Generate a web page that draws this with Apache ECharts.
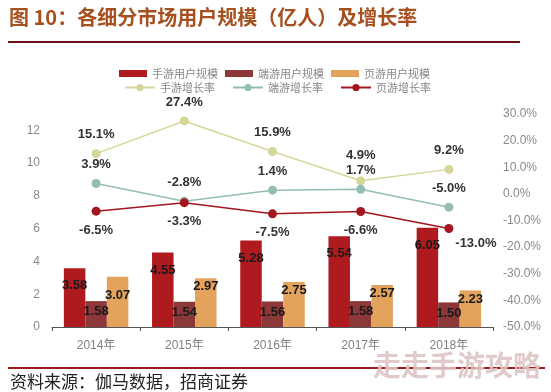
<!DOCTYPE html>
<html><head><meta charset="utf-8">
<script src="https://cdn.jsdelivr.net/npm/echarts@6/dist/echarts.min.js"></script>
<style>html,body{margin:0;padding:0;background:#fff}#c{width:551px;height:392px}</style>
</head><body><div id="c"></div>
<script>
const categories = ['2014年','2015年','2016年','2017年','2018年'];
const mobileUsers = [3.58, 4.55, 5.28, 5.54, 6.05];
const pcUsers = [1.58, 1.54, 1.56, 1.58, 1.50];
const webUsers = [3.07, 2.97, 2.75, 2.57, 2.23];
const mobileGrowth = [15.1, 27.4, 15.9, 4.9, 9.2];
const pcGrowth = [3.9, -2.8, 1.4, 1.7, -5.0];
const webGrowth = [-6.5, -3.3, -7.5, -6.6, -13.0];
const leftTicks = {min: 0, max: 13, interval: 2};
const rightTicks = {min: -50, max: 30, interval: 10};

const F = '"Liberation Sans", "Noto Sans CJK SC", sans-serif';
const CJK = '"Noto Sans CJK SC", sans-serif';
const chart = echarts.init(document.getElementById('c'), null, {renderer: 'canvas'});

const barLabel = (dist) => ({show: true, position: 'insideTop', distance: dist, color: '#1a1a1a',
  fontWeight: 'bold', fontSize: 13, fontFamily: F, formatter: p => p.value.toFixed(2)});
const lineLabel = (pos) => ({show: true, position: pos, distance: 8, color: '#333',
  fontWeight: 'bold', fontSize: 13, fontFamily: F, formatter: p => p.value.toFixed(1) + '%'});

const mkLine = (name, data, color, pos) => ({
  name, type: 'line', yAxisIndex: 1, data: data.map(v => ({value: v})),
  symbol: 'circle', symbolSize: 9, itemStyle: {color}, lineStyle: {color, width: 1.5},
  label: lineLabel(pos), z: 5
});

const lineMobile = mkLine('手游增长率', mobileGrowth, '#D6D69A', 'top');
lineMobile.data[3].label = {offset: [0, -6]};
const linePc = mkLine('端游增长率', pcGrowth, '#93BDB3', 'top');
const lineWeb = mkLine('页游增长率', webGrowth, '#A3161E', 'bottom');
lineWeb.data[4].label = {offset: [27, -4]};

const webBar = {name: '页游用户规模', type: 'bar', data: webUsers.map(v => ({value: v})), barWidth: 21.5,
  itemStyle: {color: '#E4A35D'}, label: barLabel(2)};
webBar.data[0].label = {distance: 12};

chart.setOption({
  animation: false,
  backgroundColor: '#fff',
  textStyle: {fontFamily: CJK},
  grid: {left: 52, right: 58, top: 114, bottom: 65},
  legend: [
    {data: ['手游用户规模','端游用户规模','页游用户规模'], left: 114, top: 63, itemWidth: 28, itemHeight: 7,
     itemGap: 7, textStyle: {color: '#888', fontSize: 11, fontFamily: CJK}, icon: 'rect'},
    {data: ['手游增长率','端游增长率','页游增长率'], left: 119, top: 77, itemWidth: 30, itemHeight: 9,
     itemGap: 17, textStyle: {color: '#888', fontSize: 11, fontFamily: CJK}}
  ],
  xAxis: {type: 'category', data: categories,
    axisLine: {lineStyle: {color: '#555', width: 1}},
    axisTick: {show: true, length: 4, lineStyle: {color: '#555'}},
    axisLabel: {color: '#808080', fontSize: 12, margin: 13, fontFamily: F}},
  yAxis: [
    {type: 'value', min: leftTicks.min, max: leftTicks.max, interval: leftTicks.interval,
     splitLine: {show: false}, axisLine: {show: false}, axisTick: {show: false},
     axisLabel: {color: '#8a8a8a', fontSize: 12, margin: 12, fontFamily: F,
       formatter: v => (v === leftTicks.max ? '' : String(v))}},
    {type: 'value', min: rightTicks.min, max: rightTicks.max, interval: rightTicks.interval,
     splitLine: {show: false}, axisLine: {show: false}, axisTick: {show: false},
     axisLabel: {color: '#8a8a8a', fontSize: 12, margin: 10, fontFamily: F,
       formatter: v => v.toFixed(1) + '%'}}
  ],
  series: [
    {name: '手游用户规模', type: 'bar', data: mobileUsers, barWidth: 21.5, barGap: '0%',
     itemStyle: {color: '#AF1A1F'}, label: barLabel(11)},
    {name: '端游用户规模', type: 'bar', data: pcUsers, barWidth: 21.5, barGap: '0%',
     itemStyle: {color: '#8C3838'}, label: barLabel(4)},
    webBar,
    lineMobile, linePc, lineWeb
  ],
  graphic: [
    {type: 'text', left: 9, top: 7, style: {text: '图 10：各细分市场用户规模（亿人）及增长率',
      fill: '#A5501E', font: 'bold 20px "Noto Sans CJK SC", sans-serif'}},
    {type: 'rect', shape: {x: 8, y: 41, width: 512, height: 2}, style: {fill: '#6E1018'}},
    {type: 'rect', shape: {x: 8, y: 367, width: 537, height: 2}, style: {fill: '#9B1B1F'}},
    {type: 'text', left: 10, top: 373, style: {text: '资料来源：伽马数据，招商证券',
      fill: '#222', font: '17px "Noto Sans CJK SC", sans-serif'}},
    {type: 'text', left: 373, top: 351, z: 100, style: {text: '走走手游攻略',
      fill: 'rgba(222,196,196,0.9)', font: 'bold 28px "Noto Sans CJK SC", sans-serif'}}
  ]
});
</script></body></html>
